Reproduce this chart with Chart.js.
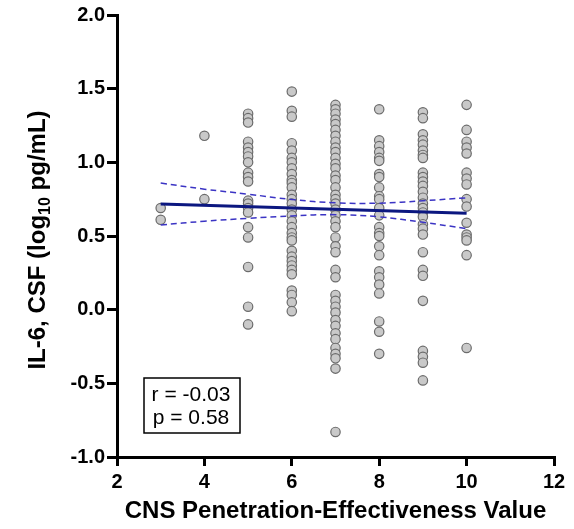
<!DOCTYPE html>
<html>
<head>
<meta charset="utf-8" />
<script src="https://cdn.jsdelivr.net/npm/chart.js@4.4.1/dist/chart.umd.min.js"></script>
<style>
  html, body { margin: 0; padding: 0; background: #fff; }
  #wrap { width: 574px; height: 529px; }
</style>
</head>
<body>
<div id="wrap"><canvas id="myChart" width="574" height="529"></canvas></div>
<script>
// IL-6 (log10 pg/mL) by CNS penetration-effectiveness score
const cpeScores = [3, 4, 5, 6, 7, 8, 9, 10];
const il6Cpe3 = [0.69, 0.61];
const il6Cpe4 = [1.18, 0.75];
const il6Cpe5 = [1.33, 1.30, 1.27, 1.14, 1.10, 1.07, 1.04, 1.00, 0.93, 0.90, 0.87, 0.74, 0.72, 0.69, 0.66, 0.56, 0.49, 0.29, 0.02, -0.10];
const il6Cpe6 = [1.48, 1.35, 1.31, 1.13, 1.08, 1.03, 1.00, 0.96, 0.92, 0.88, 0.86, 0.83, 0.78, 0.75, 0.72, 0.68, 0.64, 0.60, 0.56, 0.52, 0.49, 0.47, 0.40, 0.36, 0.33, 0.30, 0.27, 0.24, 0.13, 0.10, 0.05, -0.01];
const il6Cpe7 = [1.39, 1.36, 1.33, 1.29, 1.26, 1.22, 1.18, 1.14, 1.10, 1.07, 1.03, 0.99, 0.96, 0.91, 0.88, 0.83, 0.78, 0.75, 0.72, 0.68, 0.64, 0.60, 0.56, 0.49, 0.43, 0.39, 0.27, 0.22, 0.10, 0.06, 0.02, -0.02, -0.07, -0.11, -0.16, -0.20, -0.26, -0.30, -0.33, -0.40, -0.83];
const il6Cpe8 = [1.36, 1.15, 1.11, 1.07, 1.03, 1.01, 0.92, 0.90, 0.83, 0.77, 0.75, 0.69, 0.64, 0.56, 0.52, 0.50, 0.43, 0.37, 0.26, 0.22, 0.17, 0.11, -0.08, -0.15, -0.30];
const il6Cpe9 = [1.34, 1.30, 1.19, 1.15, 1.12, 1.08, 1.05, 1.03, 0.93, 0.90, 0.87, 0.84, 0.80, 0.76, 0.72, 0.69, 0.66, 0.63, 0.58, 0.55, 0.51, 0.39, 0.27, 0.23, 0.06, -0.28, -0.32, -0.36, -0.48];
const il6Cpe10 = [1.39, 1.22, 1.14, 1.10, 1.06, 0.93, 0.89, 0.85, 0.75, 0.70, 0.59, 0.51, 0.49, 0.47, 0.37, -0.26];

// fitted line and 95% band, read at each score
const fitX = [3, 10];
const fitY = [0.718, 0.655];
const bandUpper = [0.859, 0.818, 0.784, 0.748, 0.725, 0.723, 0.739, 0.759];
const bandLower = [0.575, 0.600, 0.620, 0.636, 0.645, 0.630, 0.593, 0.550];

const xTicks = [2, 4, 6, 8, 10, 12];
const yTicks = [-1.0, -0.5, 0.0, 0.5, 1.0, 1.5, 2.0];
const statLines = ["r = -0.03", "p = 0.58"];

const groups = [il6Cpe3, il6Cpe4, il6Cpe5, il6Cpe6, il6Cpe7, il6Cpe8, il6Cpe9, il6Cpe10];
const points = [];
groups.forEach((vals, i) => {
  vals.forEach((v) => points.push({ x: cpeScores[i], y: v }));
});

const toXY = (xs, ys) => xs.map((x, i) => ({ x: x, y: ys[i] }));

const FONT = "'Liberation Sans', Arial, Helvetica, sans-serif";

// axis titles (y one needs a subscript) and the r/p box
const extras = {
  id: "extras",
  afterDraw: (chart) => {
    const ctx = chart.ctx;
    const area = chart.chartArea;
    ctx.save();
    ctx.fillStyle = "#000";

    // x title
    ctx.font = "bold 24px " + FONT;
    ctx.textAlign = "center";
    ctx.textBaseline = "middle";
    ctx.fillText("CNS Penetration-Effectiveness Value", (area.left + area.right) / 2, 511);

    // y title
    const big = "bold 24px " + FONT;
    const small = "bold 16px " + FONT;
    const partA = "IL-6, CSF (log";
    const partB = "10";
    const partC = " pg/mL)";
    ctx.font = big;
    const wA = ctx.measureText(partA).width;
    const wC = ctx.measureText(partC).width;
    ctx.font = small;
    const wB = ctx.measureText(partB).width;
    const total = wA + wB + wC;
    ctx.translate(45, 240);
    ctx.rotate(-Math.PI / 2);
    ctx.textAlign = "left";
    ctx.textBaseline = "alphabetic";
    let pos = -total / 2;
    ctx.font = big;
    ctx.fillText(partA, pos, 0);
    pos += wA;
    ctx.font = small;
    ctx.fillText(partB, pos, 5);
    pos += wB;
    ctx.font = big;
    ctx.fillText(partC, pos, 0);
    ctx.restore();

    // stats box
    ctx.save();
    ctx.strokeStyle = "#000";
    ctx.lineWidth = 1.5;
    ctx.strokeRect(144, 378, 96, 55);
    ctx.fillStyle = "#000";
    ctx.font = "21px " + FONT;
    ctx.textAlign = "center";
    ctx.textBaseline = "middle";
    ctx.fillText(statLines[0], 191, 395);
    ctx.fillText(statLines[1], 191, 418);
    ctx.restore();
  },
};

const tickFont = { family: FONT, size: 20, weight: "bold" };

new Chart(document.getElementById("myChart"), {
  type: "scatter",
  data: {
    datasets: [
      {
        label: "fit",
        data: toXY(fitX, fitY),
        showLine: true,
        borderColor: "#0b1780",
        borderWidth: 3,
        pointRadius: 0,
        order: 0,
      },
      {
        label: "upper",
        data: toXY(cpeScores, bandUpper),
        showLine: true,
        borderColor: "#3b34c4",
        borderWidth: 1.5,
        borderDash: [6, 4],
        tension: 0.4,
        pointRadius: 0,
        order: 1,
      },
      {
        label: "lower",
        data: toXY(cpeScores, bandLower),
        showLine: true,
        borderColor: "#3b34c4",
        borderWidth: 1.5,
        borderDash: [6, 4],
        tension: 0.4,
        pointRadius: 0,
        order: 2,
      },
      {
        label: "IL-6",
        data: points,
        pointRadius: 4.7,
        pointBackgroundColor: "#c9c9c9",
        pointBorderColor: "#6b6b6b",
        pointBorderWidth: 1.2,
        order: 3,
      },
    ],
  },
  options: {
    responsive: false,
    animation: false,
    layout: { padding: { top: 15, right: 20, left: 0, bottom: 0 } },
    plugins: {
      legend: { display: false },
      tooltip: { enabled: false },
    },
    scales: {
      x: {
        type: "linear",
        min: 2,
        max: 12,
        afterFit: (scale) => {
          scale.height = 72;
        },
        afterBuildTicks: (scale) => {
          scale.ticks = xTicks.map((v) => ({ value: v }));
        },
        border: { display: true, color: "#000", width: 3 },
        grid: {
          drawOnChartArea: false,
          drawTicks: true,
          tickLength: 9,
          color: "#000",
          lineWidth: 3,
        },
        ticks: {
          color: "#000",
          font: tickFont,
          padding: 4,
          maxRotation: 0,
        },
      },
      y: {
        type: "linear",
        min: -1,
        max: 2,
        afterFit: (scale) => {
          scale.width = 117;
        },
        afterBuildTicks: (scale) => {
          scale.ticks = yTicks.map((v) => ({ value: v }));
        },
        border: { display: true, color: "#000", width: 3 },
        grid: {
          drawOnChartArea: false,
          drawTicks: true,
          tickLength: 10,
          color: "#000",
          lineWidth: 3,
        },
        ticks: {
          color: "#000",
          font: tickFont,
          padding: 2,
          callback: (v) => v.toFixed(1),
        },
      },
    },
  },
  plugins: [extras],
});
</script>
</body>
</html>
